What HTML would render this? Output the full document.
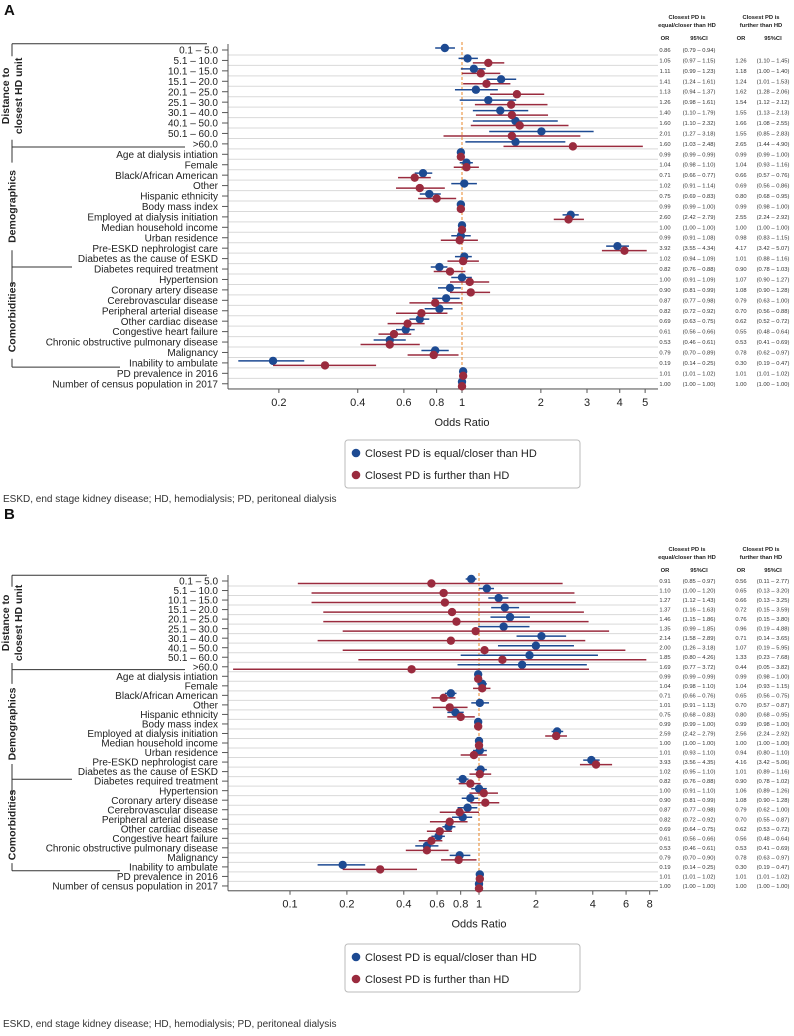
<!DOCTYPE html>
<html><head><meta charset="utf-8"><style>
body{margin:0;background:#fff;}
svg{display:block;font-family:"Liberation Sans",Arial,sans-serif;}
</style></head><body>
<svg id="chart" width="794" height="1036" viewBox="0 0 794 1036" xmlns="http://www.w3.org/2000/svg"></svg>
<script>
const rowLabels=["0.1 – 5.0","5.1 – 10.0","10.1 – 15.0","15.1 – 20.0","20.1 – 25.0","25.1 – 30.0","30.1 – 40.0","40.1 – 50.0","50.1 – 60.0",">60.0","Age at dialysis intiation","Female","Black/African American","Other","Hispanic ethnicity","Body mass index","Employed at dialysis initiation","Median household income","Urban residence","Pre-ESKD nephrologist care","Diabetes as the cause of ESKD","Diabetes required treatment","Hypertension","Coronary artery disease","Cerebrovascular disease","Peripheral arterial disease","Other cardiac disease","Congestive heart failure","Chronic obstructive pulmonary disease","Malignancy","Inability to ambulate","PD prevalence in 2016","Number of census population in 2017"];
// Panel A
const aOR1=[0.86,1.05,1.11,1.41,1.13,1.26,1.40,1.60,2.01,1.60,0.99,1.04,0.71,1.02,0.75,0.99,2.60,1.00,0.99,3.92,1.02,0.82,1.00,0.90,0.87,0.82,0.69,0.61,0.53,0.79,0.19,1.01,1.00];
const aLo1=[0.79,0.97,0.99,1.24,0.94,0.98,1.10,1.10,1.27,1.03,0.99,0.98,0.66,0.91,0.69,0.99,2.42,1.00,0.91,3.55,0.94,0.76,0.91,0.81,0.77,0.72,0.63,0.56,0.46,0.70,0.14,1.01,1.00];
const aHi1=[0.94,1.15,1.23,1.61,1.37,1.61,1.79,2.32,3.18,2.48,0.99,1.10,0.77,1.14,0.83,1.00,2.79,1.00,1.08,4.34,1.09,0.88,1.09,0.99,0.98,0.92,0.75,0.66,0.61,0.89,0.25,1.02,1.00];
const aOR2=[null,1.26,1.18,1.24,1.62,1.54,1.55,1.66,1.55,2.65,0.99,1.04,0.66,0.69,0.80,0.99,2.55,1.00,0.98,4.17,1.01,0.90,1.07,1.08,0.79,0.70,0.62,0.55,0.53,0.78,0.30,1.01,1.00];
const aLo2=[null,1.10,1.00,1.01,1.28,1.12,1.13,1.08,0.85,1.44,0.99,0.93,0.57,0.56,0.68,0.98,2.24,1.00,0.83,3.42,0.88,0.78,0.90,0.90,0.63,0.56,0.52,0.48,0.41,0.62,0.19,1.01,1.00];
const aHi2=[null,1.45,1.40,1.53,2.06,2.12,2.13,2.55,2.83,4.90,1.00,1.16,0.76,0.86,0.95,1.00,2.92,1.00,1.15,5.07,1.16,1.03,1.27,1.28,1.00,0.88,0.72,0.64,0.69,0.97,0.47,1.02,1.00];
// Panel B
const bOR1=[0.91,1.10,1.27,1.37,1.46,1.35,2.14,2.00,1.85,1.69,0.99,1.04,0.71,1.01,0.75,0.99,2.59,1.00,1.01,3.93,1.02,0.82,1.00,0.90,0.87,0.82,0.69,0.61,0.53,0.79,0.19,1.01,1.00];
const bLo1=[0.85,1.00,1.12,1.16,1.15,0.99,1.58,1.26,0.80,0.77,0.99,0.98,0.66,0.91,0.68,0.99,2.42,1.00,0.93,3.56,0.95,0.76,0.91,0.81,0.77,0.72,0.64,0.56,0.46,0.70,0.14,1.01,1.00];
const bHi1=[0.97,1.20,1.43,1.63,1.86,1.85,2.89,3.18,4.26,3.72,0.99,1.10,0.76,1.13,0.83,1.00,2.79,1.00,1.10,4.35,1.10,0.88,1.10,0.99,0.98,0.92,0.75,0.66,0.61,0.90,0.25,1.02,1.00];
const bOR2=[0.56,0.65,0.66,0.72,0.76,0.96,0.71,1.07,1.33,0.44,0.99,1.04,0.65,0.70,0.80,0.99,2.56,1.00,0.94,4.16,1.01,0.90,1.06,1.08,0.79,0.70,0.62,0.56,0.53,0.78,0.30,1.01,1.00];
const bLo2=[0.11,0.13,0.13,0.15,0.15,0.19,0.14,0.19,0.23,0.05,0.98,0.93,0.56,0.57,0.68,0.98,2.24,1.00,0.80,3.42,0.89,0.78,0.89,0.90,0.62,0.55,0.53,0.48,0.41,0.63,0.19,1.01,1.00];
const bHi2=[2.77,3.20,3.25,3.59,3.80,4.88,3.65,5.95,7.68,3.82,1.00,1.15,0.75,0.87,0.95,1.00,2.92,1.00,1.10,5.06,1.16,1.02,1.26,1.28,1.00,0.87,0.72,0.64,0.69,0.97,0.47,1.02,1.00];
const aTicks=[0.2,0.4,0.6,0.8,1,2,3,4,5];
const bTicks=[0.1,0.2,0.4,0.6,0.8,1,2,4,6,8];

const NS="http://www.w3.org/2000/svg";
const svg=document.getElementById('chart');
const BLUE="#1d4a92",RED="#9a2b3e";
function mk(tag,attrs,parent,text){const e=document.createElementNS(NS,tag);for(const k in attrs)e.setAttribute(k,attrs[k]);if(text!==undefined)e.textContent=text;(parent||svg).appendChild(e);return e;}
function fmt(v){return v.toFixed(2);}

function panel(cfg){
  const g=mk('g',{});
  
  
  const yRow=i=>cfg.y0+i*cfg.step;
  const xS=v=>cfg.x1+Math.log10(v)*cfg.dec;
  const axisY=yRow(32.5);
  const t=mk('text',{x:4,y:cfg.letterY,'font-size':15,'font-weight':'bold',fill:'#111'},g,cfg.letter);
  
  for(let i=0;i<33;i++){
    const l=mk('line',{x1:228,x2:658,y1:yRow(i)+5,y2:yRow(i)+5,stroke:'#d9d9d9','stroke-width':1},g);
    
  }
  const rl=mk('line',{x1:xS(1),x2:xS(1),y1:yRow(0)-8,y2:axisY,stroke:'#e8872a','stroke-width':1,'stroke-dasharray':'3,2'},g);
  
  const ya=mk('line',{x1:228,x2:228,y1:yRow(0)-6,y2:axisY,stroke:'#555','stroke-width':1},g);
  
  const xa=mk('line',{x1:228,x2:658,y1:axisY,y2:axisY,stroke:'#555','stroke-width':1},g);
  
  cfg.ticks.forEach(tv=>{
    const x=xS(tv);
    mk('line',{x1:x,x2:x,y1:axisY,y2:axisY+4,stroke:'#555'},g);
    const tl=mk('text',{x:x,y:axisY+17,'font-size':11,'text-anchor':'middle',fill:'#222'},g,String(tv));
    
  });
  const xt=mk('text',{x:xS(1),y:axisY+37,'font-size':11,'text-anchor':'middle',fill:'#222'},g,'Odds Ratio');
  
  rowLabels.forEach((lab,i)=>{
    const y=yRow(i);
    mk('line',{x1:222,x2:228,y1:y,y2:y,stroke:'#555'},g);
    const tl=mk('text',{x:218,y:y+3.6,'font-size':10,'text-anchor':'end',fill:'#222'},g,lab);
    
  });
  const br=[[-0.6,207],[9.3,185],[20.8,72],[30.4,120]];
  br.forEach(b=>{const y=yRow(b[0]);mk('line',{x1:12,x2:b[1],y1:y,y2:y,stroke:'#333'},g);});
  mk('line',{x1:12,x2:12,y1:yRow(-0.6),y2:yRow(0.6),stroke:'#333'},g);
  mk('line',{x1:12,x2:12,y1:yRow(8.6),y2:yRow(10.8),stroke:'#333'},g);
  mk('line',{x1:12,x2:12,y1:yRow(19.2),y2:yRow(22.5),stroke:'#333'},g);
  mk('line',{x1:12,x2:12,y1:yRow(29.6),y2:yRow(30.4),stroke:'#333'},g);
  const grp=(lines,yc)=>{
    lines.forEach((s,k)=>{
      const x=12+(k-(lines.length-1)/2)*13+3.5;
      const tt=mk('text',{x:x,y:yc,'font-size':10.5,'font-weight':'bold','text-anchor':'middle',fill:'#222',transform:`rotate(-90 ${x} ${yc})`},g,s);
      
    });
  };
  grp(['Distance to','closest HD unit'],yRow(4.4));
  grp(['Demographics'],yRow(15));
  grp(['Comorbidities'],yRow(25.6));
  const series=[[cfg.or1,cfg.lo1,cfg.hi1,BLUE,-2,'series-equal-closer'],[cfg.or2,cfg.lo2,cfg.hi2,RED,2.5,'series-further']];
  series.forEach(s=>{
    const sg=mk('g',{},g);
    
    s[0].forEach((v,i)=>{
      if(v==null)return;
      const y=yRow(i)+s[4];
      const ci=mk('line',{x1:xS(s[1][i]),x2:xS(s[2][i]),y1:y,y2:y,stroke:s[3],'stroke-width':1.5},sg);
      
      const dot=mk('circle',{cx:xS(v),cy:y,r:4.2,fill:s[3]},sg);
      
    });
  });
  const hy=cfg.headY;
  const th=(x,y,s,w)=>{const e=mk('text',{x:x,y:y,'font-size':5.8,'font-weight':w||'bold','text-anchor':'middle',fill:'#222'},g,s);};
  th(687,hy,'Closest PD is');th(687,hy+8,'equal/closer than HD');
  th(761,hy,'Closest PD is');th(761,hy+8,'further than HD');
  th(665,hy+21,'OR');th(699,hy+21,'95%CI');th(741,hy+21,'OR');th(773,hy+21,'95%CI');
  const tv=(x,y,s,a)=>{const e=mk('text',{x:x,y:y,'font-size':5.8,'text-anchor':a||'middle',fill:'#333'},g,s);};
  for(let i=0;i<33;i++){
    const y=yRow(i)+2;
    tv(665,y,fmt(cfg.or1[i]));tv(699,y,'('+fmt(cfg.lo1[i])+' – '+fmt(cfg.hi1[i])+')');
    if(cfg.or2[i]!=null){tv(741,y,fmt(cfg.or2[i]));tv(773,y,'('+fmt(cfg.lo2[i])+' – '+fmt(cfg.hi2[i])+')');}
  }
  const ly=cfg.legY;
  const lg=mk('g',{},g);
  mk('rect',{x:345,y:ly,width:235,height:48,rx:3,fill:'#fff',stroke:'#bbb'},lg);
  [[BLUE,'Closest PD is equal/closer than HD'],[RED,'Closest PD is further than HD']].forEach((e,k)=>{
    const le=mk('g',{},lg);
    mk('circle',{cx:356,cy:ly+13+k*22,r:4.3,fill:e[0]},le);
    mk('text',{x:365,y:ly+17+k*22,'font-size':11,fill:'#222'},le,e[1]);
  });
  const fn=mk('text',{x:3,y:cfg.footY,'font-size':10,fill:'#333'},g,'ESKD, end stage kidney disease; HD, hemodialysis; PD, peritoneal dialysis');
  
}
panel({name:'panel-a',letter:'A',letterY:15,y0:50,step:10.43,x1:462,dec:262,ticks:aTicks,or1:aOR1,lo1:aLo1,hi1:aHi1,or2:aOR2,lo2:aLo2,hi2:aHi2,headY:19,legY:440,footY:502});
panel({name:'panel-b',letter:'B',letterY:519,y0:581,step:9.53,x1:479,dec:189,ticks:bTicks,or1:bOR1,lo1:bLo1,hi1:bHi1,or2:bOR2,lo2:bLo2,hi2:bHi2,headY:551,legY:944,footY:1027});
</script>
</body></html>
